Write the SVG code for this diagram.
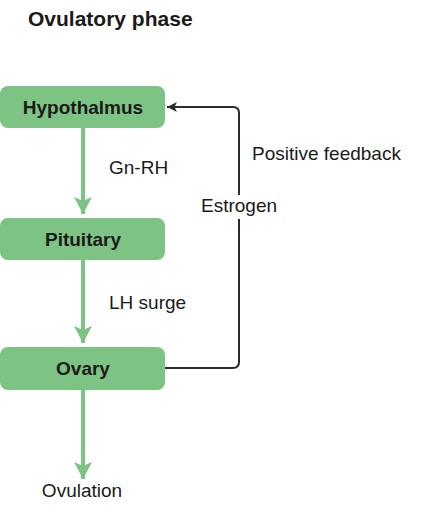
<svg xmlns="http://www.w3.org/2000/svg" width="441" height="508" viewBox="0 0 441 508">
<style>
text{font-family:"Liberation Sans",Arial,sans-serif;fill:#1a1a1a}
.t{font-size:21px;font-weight:bold}
.n{font-size:19px;font-weight:bold;text-anchor:middle}
.l{font-size:19px}
.box{fill:#7dc383}
.g{stroke:#7dc383;stroke-width:4;fill:none}
.k{stroke:#2b2b2b;stroke-width:2;fill:none}
</style>
<defs>
<marker id="ga" markerUnits="userSpaceOnUse" markerWidth="20" markerHeight="20" viewBox="0 0 20 20" refX="17" refY="10" orient="auto">
<path d="M17,10 L0,1 L4,10 L0,19 Z" fill="#7dc383"/>
</marker>
<marker id="ka" markerUnits="userSpaceOnUse" markerWidth="12" markerHeight="12" viewBox="0 0 12 12" refX="11" refY="6" orient="auto">
<path d="M11,6 L1,1 L3.5,6 L1,11 Z" fill="#2b2b2b"/>
</marker>
</defs>
<text class="t" x="28" y="26">Ovulatory phase</text>
<g id="connectors">
<line class="g" x1="83" y1="128" x2="83" y2="214" marker-end="url(#ga)"/>
<line class="g" x1="83" y1="260" x2="83" y2="343" marker-end="url(#ga)"/>
<line class="g" x1="83" y1="390" x2="83" y2="479" marker-end="url(#ga)"/>
<path class="k" d="M165,368 H233 Q239,368 239,362 V219 M239,195 V113 Q239,107 233,107 H167" marker-end="url(#ka)"/>
<text class="l" x="109" y="174">Gn-RH</text>
<text class="l" x="109" y="309">LH surge</text>
<text class="l" x="252" y="160">Positive feedback</text>
<text class="l" x="239" y="212" text-anchor="middle">Estrogen</text>
</g>
<g id="hypothalmus">
<rect class="box" x="0" y="86" width="165" height="42" rx="8"/>
<text class="n" x="83" y="114">Hypothalmus</text>
</g>
<g id="pituitary">
<rect class="box" x="0" y="218" width="165" height="42" rx="8"/>
<text class="n" x="83" y="246">Pituitary</text>
</g>
<g id="ovary">
<rect class="box" x="0" y="347" width="165" height="43" rx="8"/>
<text class="n" x="83" y="375">Ovary</text>
</g>
<g id="ovulation">
<text class="l" x="82" y="497" text-anchor="middle">Ovulation</text>
</g>
</svg>
